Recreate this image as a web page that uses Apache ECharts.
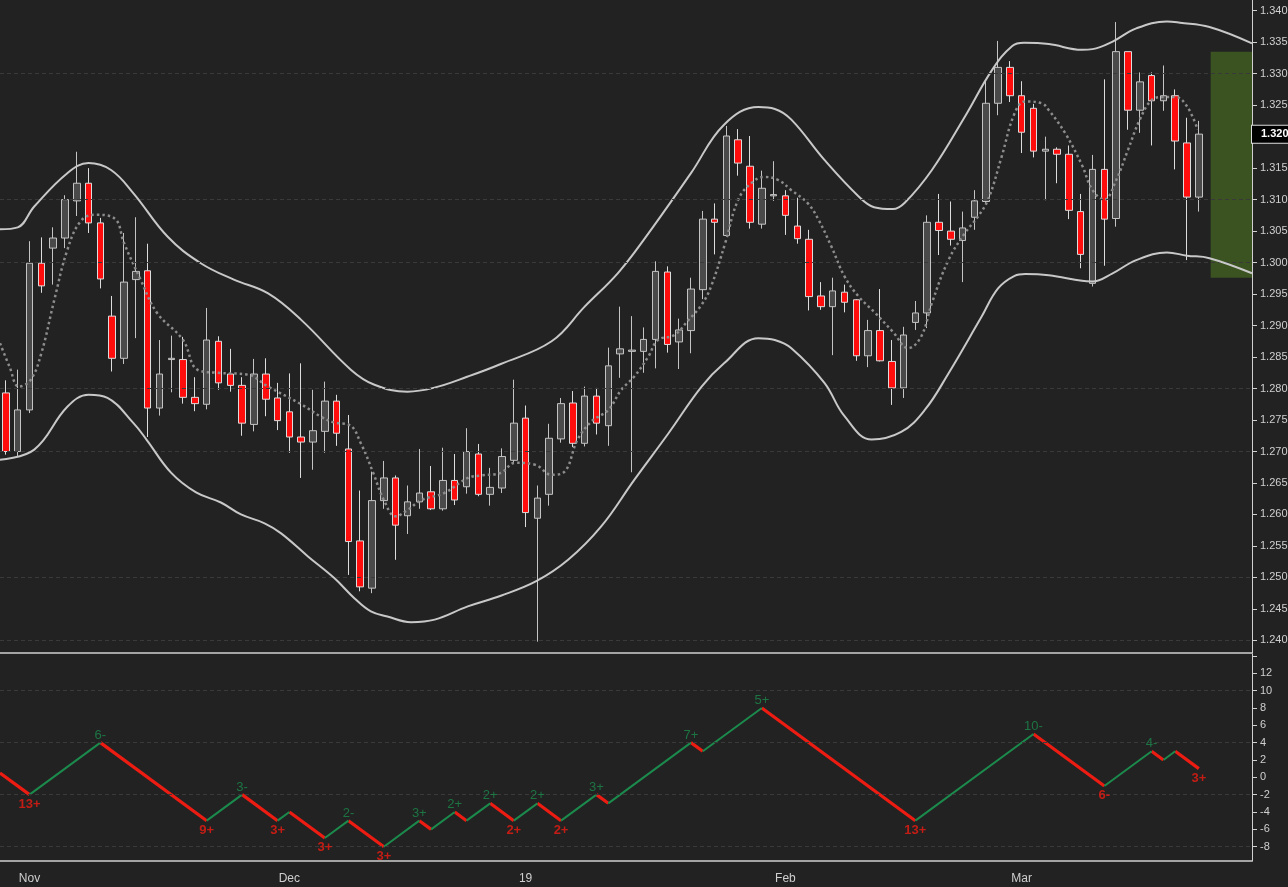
<!DOCTYPE html>
<html>
<head>
<meta charset="utf-8">
<script src="https://cdn.jsdelivr.net/npm/echarts@6/dist/echarts.min.js"></script>
<style>
  html, body { margin: 0; padding: 0; background: #222222; overflow: hidden; }
  #chart { width: 1288px; height: 887px; }
</style>
</head>
<body>
<div id="chart"></div>
<script>
// daily GBP/USD candles, Oct 30 2018 .. Mar 22 2019 (weekdays, Dec 25 / Jan 1 off)
const opens = [
  1.2793, 1.2700, 1.2766, 1.2999, 1.3023, 1.3039, 1.3098, 1.3126, 1.3063, 1.2915,
  1.2848, 1.2973, 1.2987, 1.2769, 1.2846, 1.2846, 1.2786, 1.2775, 1.2875, 1.2823,
  1.2805, 1.2743, 1.2823, 1.2785, 1.2763, 1.2723, 1.2715, 1.2732, 1.2780, 1.2704,
  1.2558, 1.2483, 1.2622, 1.2658, 1.2598, 1.2620, 1.2636, 1.2609, 1.2654, 1.2644,
  1.2696, 1.2632, 1.2642, 1.2686, 1.2753, 1.2594, 1.2632, 1.2720, 1.2777, 1.2713,
  1.2788, 1.2741, 1.2855, 1.2859, 1.2859, 1.2878, 1.2985, 1.2874, 1.2892, 1.2957,
  1.3069, 1.3043, 1.3195, 1.3153, 1.3061, 1.3106, 1.3106, 1.3058, 1.3037, 1.2947,
  1.2930, 1.2953, 1.2941, 1.2852, 1.2892, 1.2843, 1.2801, 1.2905, 1.2920, 1.3064,
  1.3050, 1.3035, 1.3072, 1.3097, 1.3253, 1.3310, 1.3265, 1.3245, 1.3177, 1.3180,
  1.3172, 1.3081, 1.2967, 1.3148, 1.3070, 1.3335, 1.3242, 1.3297, 1.3257, 1.3265,
  1.3190, 1.3104
]
const closes = [
  1.2700, 1.2766, 1.2999, 1.2963, 1.3039, 1.3100, 1.3126, 1.3063, 1.2974, 1.2848,
  1.2969, 1.2986, 1.2769, 1.2823, 1.2848, 1.2786, 1.2776, 1.2877, 1.2809, 1.2805,
  1.2745, 1.2823, 1.2783, 1.2749, 1.2723, 1.2715, 1.2733, 1.2780, 1.2729, 1.2557,
  1.2485, 1.2622, 1.2658, 1.2583, 1.2620, 1.2634, 1.2609, 1.2654, 1.2623, 1.2700,
  1.2632, 1.2643, 1.2692, 1.2745, 1.2603, 1.2626, 1.2721, 1.2776, 1.2713, 1.2788,
  1.2745, 1.2836, 1.2863, 1.2861, 1.2878, 1.2986, 1.2870, 1.2893, 1.2958, 1.3069,
  1.3064, 1.3201, 1.3158, 1.3064, 1.3118, 1.3108, 1.3075, 1.3038, 1.2946, 1.2930,
  1.2955, 1.2937, 1.2852, 1.2892, 1.2844, 1.2801, 1.2885, 1.2920, 1.3064, 1.3051,
  1.3037, 1.3055, 1.3098, 1.3253, 1.3310, 1.3265, 1.3207, 1.3177, 1.3180, 1.3172,
  1.3083, 1.3013, 1.3148, 1.3069, 1.3335, 1.3242, 1.3287, 1.3257, 1.3265, 1.3193,
  1.3104, 1.3204
]
const lows = [
  1.2695, 1.2692, 1.2761, 1.2952, 1.2965, 1.3023, 1.3074, 1.3047, 1.2959, 1.2827,
  1.2839, 1.2880, 1.2723, 1.2757, 1.2794, 1.2776, 1.2764, 1.2767, 1.2798, 1.2795,
  1.2725, 1.2732, 1.2756, 1.2734, 1.2698, 1.2658, 1.2671, 1.2698, 1.2709, 1.2504,
  1.2478, 1.2475, 1.2609, 1.2528, 1.2569, 1.2609, 1.2607, 1.2606, 1.2615, 1.2633,
  1.2629, 1.2614, 1.2634, 1.2682, 1.2580, 1.2398, 1.2614, 1.2714, 1.2707, 1.2708,
  1.2727, 1.2709, 1.2817, 1.2667, 1.2825, 1.2832, 1.2857, 1.2831, 1.2856, 1.2942,
  1.3013, 1.3041, 1.3138, 1.3054, 1.3054, 1.3098, 1.3044, 1.3030, 1.2924, 1.2925,
  1.2853, 1.2921, 1.2844, 1.2834, 1.2843, 1.2774, 1.2785, 1.2893, 1.2896, 1.3012,
  1.3027, 1.2969, 1.3052, 1.3094, 1.3234, 1.3255, 1.3174, 1.3167, 1.3099, 1.3126,
  1.3069, 1.2991, 1.2962, 1.2995, 1.3057, 1.3211, 1.3206, 1.3186, 1.3241, 1.3148,
  1.3004, 1.3081
]
const highs = [
  1.2813, 1.2830, 1.3034, 1.3040, 1.3056, 1.3107, 1.3176, 1.3150, 1.3071, 1.2947,
  1.3047, 1.3072, 1.3030, 1.2877, 1.2884, 1.2882, 1.2818, 1.2928, 1.2883, 1.2863,
  1.2818, 1.2847, 1.2848, 1.2809, 1.2824, 1.2840, 1.2798, 1.2811, 1.2790, 1.2758,
  1.2638, 1.2668, 1.2685, 1.2662, 1.2646, 1.2704, 1.2677, 1.2706, 1.2696, 1.2737,
  1.2712, 1.2674, 1.2705, 1.2814, 1.2773, 1.2646, 1.2744, 1.2785, 1.2796, 1.2803,
  1.2801, 1.2865, 1.2930, 1.2915, 1.2897, 1.3002, 1.2994, 1.2911, 1.2976, 1.3082,
  1.3094, 1.3217, 1.3212, 1.3201, 1.3146, 1.3161, 1.3115, 1.3103, 1.3052, 1.2969,
  1.2976, 1.2965, 1.2942, 1.2909, 1.2958, 1.2877, 1.2898, 1.2939, 1.3075, 1.3109,
  1.3097, 1.3081, 1.3115, 1.3290, 1.3352, 1.3320, 1.3288, 1.3252, 1.3200, 1.3183,
  1.3186, 1.3109, 1.3171, 1.3291, 1.3382, 1.3335, 1.3302, 1.3302, 1.3313, 1.3275,
  1.3230, 1.3225
]

// overlays as [bar position, price]
const upperBand = [
  [-0.5, 1.3053], [1.0, 1.3056], [2.4, 1.3089], [5.2, 1.3142], [7.0, 1.3158], [8.9, 1.3147],
  [10.8, 1.3110], [13.7, 1.3041], [16.5, 1.2999], [19.3, 1.2973], [22.2, 1.2951], [25.0, 1.2909],
  [29.2, 1.2830], [31.2, 1.2806], [34.0, 1.2795], [36.2, 1.2801], [39.1, 1.2819], [41.9, 1.2839],
  [46.2, 1.2875], [49.0, 1.2930], [51.8, 1.2983], [54.0, 1.3036], [58.0, 1.3142], [60.8, 1.3219],
  [63.7, 1.3247], [65.1, 1.3244], [66.5, 1.3227], [69.3, 1.3163], [72.2, 1.3105], [73.5, 1.3088],
  [75.1, 1.3085], [76.1, 1.3095], [78.4, 1.3147], [81.2, 1.3232], [83.5, 1.3306], [85.2, 1.3344],
  [86.2, 1.3349], [88.3, 1.3347], [91.1, 1.3338], [92.0, 1.3339], [93.7, 1.3351], [95.7, 1.3372],
  [98.3, 1.3383], [99.4, 1.3381], [101.9, 1.3374], [105.5, 1.3348]
]
const lowerBand = [
  [-0.5, 1.2687], [2.4, 1.2703], [5.2, 1.2771], [7.0, 1.2790], [8.6, 1.2785], [10.8, 1.2745],
  [11.9, 1.2719], [14.0, 1.2666], [16.1, 1.2635], [18.2, 1.2619], [19.9, 1.2600], [21.9, 1.2586],
  [23.3, 1.2570], [25.6, 1.2533], [27.8, 1.2499], [29.5, 1.2467], [30.9, 1.2446], [32.3, 1.2438],
  [34.3, 1.2429], [36.3, 1.2433], [39.1, 1.2454], [41.9, 1.2471], [44.9, 1.2494], [47.6, 1.2528],
  [50.4, 1.2581], [53.2, 1.2655], [56.1, 1.2729], [58.9, 1.2803], [60.8, 1.2840], [63.7, 1.2880],
  [65.1, 1.2877], [66.5, 1.2864], [69.3, 1.2809], [71.0, 1.2756], [73.3, 1.2719], [75.8, 1.2731],
  [77.8, 1.2766], [79.8, 1.2824], [82.6, 1.2914], [84.0, 1.2959], [85.4, 1.2979], [86.3, 1.2982],
  [88.3, 1.2980], [91.1, 1.2971], [92.0, 1.2970], [93.7, 1.2983], [95.7, 1.3004], [98.3, 1.3016],
  [100.0, 1.3011], [101.9, 1.3007], [105.5, 1.2983]
]
const average = [
  [-0.5, 1.2872], [0.3, 1.2835], [1.1, 1.2803], [2.1, 1.2814], [3.0, 1.2856], [4.1, 1.2941],
  [5.2, 1.3020], [6.3, 1.3065], [7.5, 1.3076], [9.2, 1.3070], [10.0, 1.3031], [11.4, 1.2973],
  [12.8, 1.2920], [15.0, 1.2877], [16.2, 1.2830], [17.9, 1.2825], [20.5, 1.2822], [22.2, 1.2803],
  [25.0, 1.2775], [26.7, 1.2755], [27.8, 1.2746], [29.1, 1.2742], [30.1, 1.2711], [31.1, 1.2666],
  [32.0, 1.2623], [33.0, 1.2597], [34.0, 1.2607], [35.2, 1.2623], [37.1, 1.2634], [39.1, 1.2658],
  [40.2, 1.2662], [41.9, 1.2666], [43.1, 1.2682], [44.8, 1.2679], [46.2, 1.2663], [47.3, 1.2668],
  [48.4, 1.2719], [49.6, 1.2748], [51.0, 1.2766], [52.1, 1.2798], [53.2, 1.2819], [54.4, 1.2851],
  [55.2, 1.2877], [56.6, 1.2885], [57.8, 1.2909], [58.9, 1.2933], [59.7, 1.2962], [60.9, 1.3031],
  [62.0, 1.3100], [63.1, 1.3126], [64.2, 1.3136], [65.4, 1.3131], [66.5, 1.3115], [67.9, 1.3094],
  [68.8, 1.3068], [69.9, 1.3025], [71.0, 1.2978], [72.2, 1.2946], [73.6, 1.2920], [75.1, 1.2890],
  [76.4, 1.2864], [77.5, 1.2883], [78.4, 1.2936], [79.8, 1.3004], [81.2, 1.3047], [82.3, 1.3073],
  [83.2, 1.3102], [84.3, 1.3168], [85.4, 1.3237], [86.3, 1.3256], [87.7, 1.3253], [88.3, 1.3242],
  [89.7, 1.3205], [91.1, 1.3155], [92.0, 1.3115], [93.0, 1.3100], [94.0, 1.3131], [95.0, 1.3179],
  [96.0, 1.3227], [97.0, 1.3258], [98.0, 1.3263], [99.0, 1.3263], [100.0, 1.3248], [100.9, 1.3211]
]
// projected zone right of the last bar: [from bar, to bar, top, bottom]
const zone = [102, 105.5, 1.3335, 1.2976]

// swing counter (lower panel): pivots [bar, value] and their labels [bar, text]
const pivots = [
  [-0.5, 0.5], [2, -2], [8, 4], [17, -5], [20, -2], [23, -5], [24, -4], [27, -7], [29, -5],
  [32, -8], [35, -5], [36, -6], [38, -4], [39, -5], [41, -3], [43, -5], [45, -3], [47, -5],
  [50, -2], [51, -3], [58, 4], [59, 3], [64, 8], [77, -5], [87, 5], [93, -1], [97, 3],
  [98, 2], [99, 3], [101, 1]
]
const pivotLabels = [
  [2, '13+'], [8, '6-'], [17, '9+'], [20, '3-'], [23, '3+'], [27, '3+'], [29, '2-'], [32, '3+'],
  [35, '3+'], [38, '2+'], [41, '2+'], [43, '2+'], [45, '2+'], [47, '2+'], [50, '3+'], [58, '7+'],
  [64, '5+'], [77, '13+'], [87, '10-'], [93, '6-'], [97, '4-'], [101, '3+']
]

const priceTicks = [1.240, 1.245, 1.250, 1.255, 1.260, 1.265, 1.270, 1.275, 1.280, 1.285, 1.290,
  1.295, 1.300, 1.305, 1.310, 1.315, 1.320, 1.325, 1.330, 1.335, 1.340]
const priceGrid = [1.240, 1.255, 1.270, 1.285, 1.300, 1.315, 1.330]
const countTicks = [-8, -6, -4, -2, 0, 2, 4, 6, 8, 10, 12]
const countTickMarks = [-8, -6, -4, -2, 0, 2, 4, 6, 8, 10, 12, 14]
const countGrid = [-8, -2, 4, 10]
const holidays = ['2018-12-25', '2019-01-01']
const monthNames = ['19', 'Feb', 'Mar', 'Apr', 'May', 'Jun', 'Jul', 'Aug', 'Sep', 'Oct', 'Nov', 'Dec']

// trading days, plus four empty slots for the projection
const days = []
for (let t = Date.UTC(2018, 9, 30); t <= Date.UTC(2019, 2, 28); t += 86400000) {
  const d = new Date(t)
  const s = d.toISOString().slice(0, 10)
  if (d.getUTCDay() === 0 || d.getUTCDay() === 6 || holidays.includes(s)) continue
  days.push(s)
}
const monthStart = new Set()
days.forEach((s, i) => {
  if (i > 0 && s.slice(5, 7) !== days[i - 1].slice(5, 7) && i < opens.length) monthStart.add(i)
})
const showMonth = i => monthStart.has(i)

const candles = opens.map((o, i) => [o, closes[i], lows[i], highs[i]])

const RED = '#ec1c12'
const GREEN = '#1b8a4c'
const redPath = []
const greenPath = []
for (let i = 0; i < pivots.length - 1; i++) {
  const a = pivots[i]
  const b = pivots[i + 1]
  const target = b[1] < a[1] ? redPath : greenPath
  if (target.length) target.push('-')
  target.push(a, b)
}
const troughLabels = []
const peakLabels = []
pivotLabels.forEach(([x, text]) => {
  const k = pivots.findIndex(p => p[0] === x)
  const v = pivots[k][1]
  if (v < pivots[k - 1][1]) troughLabels.push([x, v, text])
  else peakLabels.push([x, v, text])
})

const font = 'Liberation Sans, Arial, sans-serif'
const axisText = { color: '#cfcfcf', fontSize: 11, fontFamily: font }
const gridLine = { color: '#3a3a3a', type: [4, 3], width: 1 }
const axisColor = '#d0d0d0'

const chart = echarts.init(document.getElementById('chart'))
chart.setOption({
  backgroundColor: '#222222',
  animation: false,
  grid: [
    { left: 0, right: 36, top: 0, height: 653, outerBoundsMode: 'none', containLabel: false },
    { left: 0, right: 36, top: 654, bottom: 26, outerBoundsMode: 'none', containLabel: false }
  ],
  xAxis: [
    {
      type: 'category', gridIndex: 0, data: days, boundaryGap: true,
      axisLine: { onZero: false, lineStyle: { color: axisColor, width: 1.5 } },
      axisTick: { show: false }, axisLabel: { show: false }, splitLine: { show: false }
    },
    { type: 'value', gridIndex: 0, min: -0.5, max: 105.5, show: false },
    {
      type: 'category', gridIndex: 1, data: days, boundaryGap: true,
      axisLine: { onZero: false, lineStyle: { color: axisColor, width: 1.5 } },
      axisTick: { interval: showMonth, alignWithLabel: true, length: 4, lineStyle: { color: axisColor } },
      axisLabel: {
        interval: showMonth, margin: 12, ...axisText, fontSize: 12,
        formatter: s => monthNames[(Number(s.slice(5, 7)) - 1)]
      },
      splitLine: { show: false }
    },
    { type: 'value', gridIndex: 1, min: -0.5, max: 105.5, show: false }
  ],
  yAxis: [
    {
      type: 'value', gridIndex: 0, position: 'right', min: 1.2380, max: 1.3417,
      axisLine: { show: true, onZero: false, lineStyle: { color: axisColor } },
      axisTick: { show: true, length: 5, customValues: priceTicks, lineStyle: { color: axisColor } },
      axisLabel: { customValues: priceTicks, margin: 8, ...axisText, formatter: v => v.toFixed(3) },
      splitLine: { show: false }
    },
    {
      type: 'value', gridIndex: 0, position: 'right', min: 1.2380, max: 1.3417,
      axisLine: { show: false, onZero: false }, axisTick: { show: false }, splitLine: { show: false },
      axisLabel: {
        customValues: [closes[closes.length - 1]], margin: 0,
        color: '#ffffff', fontSize: 11, fontWeight: 'bold', fontFamily: font,
        backgroundColor: '#000000', borderColor: '#dddddd', borderWidth: 1, padding: [3, 8, 3, 9],
        formatter: v => v.toFixed(3)
      },
      z: 10
    },
    {
      type: 'value', gridIndex: 1, position: 'right', min: -9.65, max: 14.22,
      axisLine: { show: true, onZero: false, lineStyle: { color: axisColor } },
      axisTick: { show: true, length: 5, customValues: countTickMarks, lineStyle: { color: axisColor } },
      axisLabel: { customValues: countTicks, margin: 8, ...axisText },
      splitLine: { show: false }
    }
  ],
  series: [
    {
      name: 'grid', type: 'line', xAxisIndex: 1, yAxisIndex: 0, data: [], z: 1, silent: true,
      markLine: {
        silent: true, symbol: ['none', 'none'], label: { show: false }, lineStyle: gridLine,
        data: priceGrid.map(v => ({ yAxis: v }))
      }
    },
    {
      name: 'price', type: 'candlestick', xAxisIndex: 0, yAxisIndex: 0, data: candles,
      barWidth: 7, z: 3,
      itemStyle: {
        color: '#4a4a4a', color0: '#ff0d0d',
        borderColor: '#c4c4c4', borderColor0: '#dcdcdc', borderWidth: 1
      }
    },
    {
      name: 'average', type: 'line', xAxisIndex: 1, yAxisIndex: 0, data: average,
      smooth: 0.4, showSymbol: false, z: 4,
      lineStyle: { color: '#8c8c8c', width: 2.5, type: [2.5, 3] }
    },
    {
      name: 'upper', type: 'line', xAxisIndex: 1, yAxisIndex: 0, data: upperBand,
      smooth: 0.4, showSymbol: false, z: 4,
      lineStyle: { color: '#c8c8c8', width: 2 }
    },
    {
      name: 'lower', type: 'line', xAxisIndex: 1, yAxisIndex: 0, data: lowerBand,
      smooth: 0.4, showSymbol: false, z: 5,
      lineStyle: { color: '#c8c8c8', width: 2 },
      markArea: {
        silent: true,
        itemStyle: { color: 'rgba(88,145,34,0.45)' },
        data: [[{ coord: [zone[0], zone[2]] }, { coord: [zone[1], zone[3]] }]]
      }
    },
    {
      name: 'count grid', type: 'line', xAxisIndex: 3, yAxisIndex: 2, data: [], z: 1, silent: true,
      markLine: {
        silent: true, symbol: ['none', 'none'], label: { show: false }, lineStyle: gridLine,
        data: countGrid.map(v => ({ yAxis: v }))
      }
    },
    {
      name: 'down swing', type: 'line', xAxisIndex: 3, yAxisIndex: 2, data: redPath,
      showSymbol: false, connectNulls: false, z: 3,
      lineStyle: { color: RED, width: 3.2 }
    },
    {
      name: 'up swing', type: 'line', xAxisIndex: 3, yAxisIndex: 2, data: greenPath,
      showSymbol: false, connectNulls: false, z: 3,
      lineStyle: { color: GREEN, width: 2 }
    },
    {
      name: 'trough labels', type: 'scatter', xAxisIndex: 3, yAxisIndex: 2, data: troughLabels,
      symbolSize: 0, z: 6, silent: true,
      label: {
        show: true, position: 'bottom', distance: 3, formatter: p => p.value[2],
        color: RED, fontSize: 13, fontWeight: 'bold', fontFamily: font
      }
    },
    {
      name: 'peak labels', type: 'scatter', xAxisIndex: 3, yAxisIndex: 2, data: peakLabels,
      symbolSize: 0, z: 6, silent: true,
      label: {
        show: true, position: 'top', distance: 1, formatter: p => p.value[2],
        color: GREEN, fontSize: 13, fontFamily: font
      }
    }
  ]
})
</script>
</body>
</html>
